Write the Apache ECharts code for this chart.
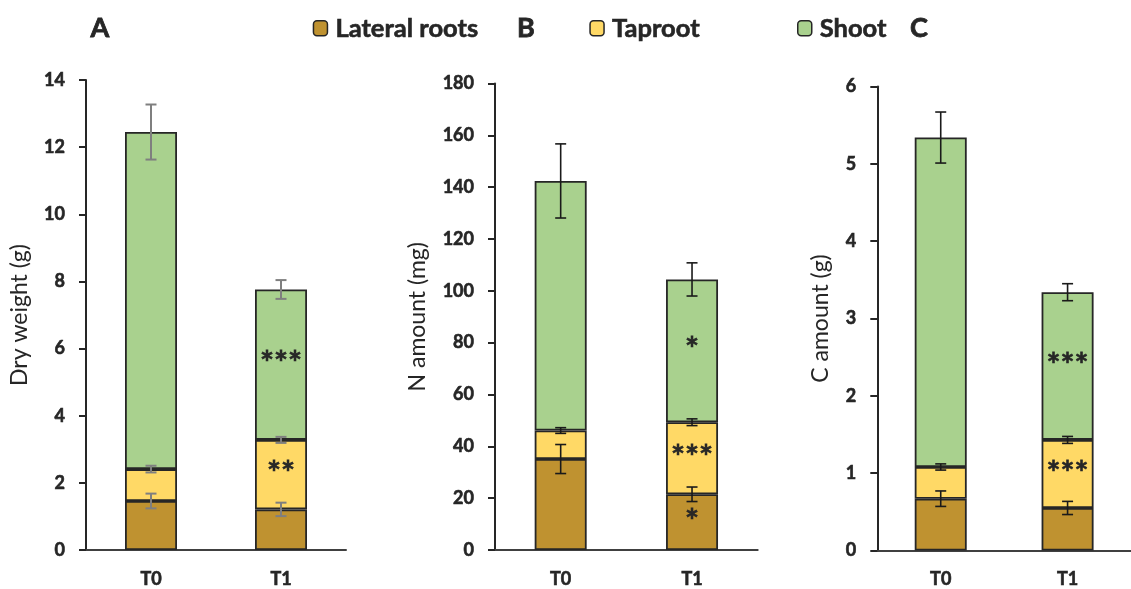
<!DOCTYPE html>
<html>
<head>
<meta charset="utf-8">
<script src="https://cdn.jsdelivr.net/npm/echarts@6/dist/echarts.min.js"></script>
<style>
html,body{margin:0;padding:0;background:#fff;}
#chart{width:1131px;height:589px;}
</style>
</head>
<body>
<div id="chart"></div>
<script>
// ---- data ----
const categories = ['T0', 'T1'];
const seriesNames = ['Lateral roots', 'Taproot', 'Shoot'];
const panelLetters = ['A', 'B', 'C'];
const yAxisNames = ['Dry weight (g)', 'N amount (mg)', 'C amount (g)'];
const yMax = [14, 180, 6];
const yInterval = [2, 20, 1];

// Panel A: dry weight (g)
const lateralA = [1.46, 1.21];
const taprootA = [0.95, 2.07];
const shootA = [10.04, 4.48];
const errLateralA = [0.22, 0.20];
const errTaprootA = [0.10, 0.09];
const errShootA = [0.82, 0.28];
const sigLateralA = ['', ''];
const sigTaprootA = ['', '**'];
const sigShootA = ['', '***'];

// Panel B: N amount (mg)
const lateralB = [35.1, 21.5];
const taprootB = [11.0, 27.8];
const shootB = [96.3, 55.1];
const errLateralB = [5.6, 2.8];
const errTaprootB = [1.1, 1.3];
const errShootB = [14.3, 6.4];
const sigLateralB = ['', '*'];
const sigTaprootB = ['', '***'];
const sigShootB = ['', '*'];

// Panel C: C amount (g)
const lateralC = [0.67, 0.55];
const taprootC = [0.41, 0.88];
const shootC = [4.26, 1.91];
const errLateralC = [0.10, 0.085];
const errTaprootC = [0.04, 0.045];
const errShootC = [0.33, 0.11];
const sigLateralC = ['', ''];
const sigTaprootC = ['', '***'];
const sigShootC = ['', '***'];

// ---- styling ----
const FONT = 'Lato';
const TEXT = '#262626';
const BOLD = 'bold';
const HEAVY = { textBorderColor: TEXT, textBorderWidth: 0.6 };
const colors = ['#BF9230', '#FFD966', '#A9D18E'];
const errColors = ['#7F7F7F', '#1A1A1A', '#1A1A1A'];
const errWidths = [2, 1.6, 1.6];

const panels = [
  { values: [lateralA, taprootA, shootA], errs: [errLateralA, errTaprootA, errShootA], sigs: [sigLateralA, sigTaprootA, sigShootA] },
  { values: [lateralB, taprootB, shootB], errs: [errLateralB, errTaprootB, errShootB], sigs: [sigLateralB, sigTaprootB, sigShootB] },
  { values: [lateralC, taprootC, shootC], errs: [errLateralC, errTaprootC, errShootC], sigs: [sigLateralC, sigTaprootC, sigShootC] }
];

const grids = [
  { left: 86, width: 260, top: 80, height: 470 },
  { left: 495, width: 262.7, top: 83.5, height: 466.5 },
  { left: 877.3, width: 265, top: 86.5, height: 464 }
];
const nameGaps = [55, 66, 45];

const xAxes = [], yAxes = [], series = [];
panels.forEach((p, i) => {
  xAxes.push({
    type: 'category', gridIndex: i, data: categories,
    axisLine: { lineStyle: { color: '#404040', width: 2 } },
    axisTick: { show: false },
    axisLabel: Object.assign({ color: TEXT, fontFamily: FONT, fontWeight: BOLD, fontSize: 18, margin: 20 }, HEAVY)
  });
  yAxes.push({
    type: 'value', gridIndex: i, min: 0, max: yMax[i], interval: yInterval[i],
    name: yAxisNames[i], nameLocation: 'middle', nameGap: nameGaps[i],
    nameTextStyle: { color: TEXT, fontFamily: FONT, fontSize: 23 },
    axisLine: { show: true, lineStyle: { color: TEXT, width: 2 } },
    axisTick: { show: true, length: 7, lineStyle: { color: TEXT, width: 2 } },
    axisLabel: Object.assign({ color: TEXT, fontFamily: FONT, fontWeight: BOLD, fontSize: 18, margin: 21 }, HEAVY),
    splitLine: { show: false }
  });
  const cum = [0, 0];
  const errData = [];
  p.values.forEach((vals, s) => {
    series.push({
      name: seriesNames[s], type: 'bar', stack: 'stack' + i,
      xAxisIndex: i, yAxisIndex: i, barWidth: 52,
      data: vals,
      itemStyle: { color: colors[s], borderColor: '#262626', borderWidth: 1.8 },
      label: Object.assign({
        show: true, position: 'inside',
        formatter: (params) => p.sigs[s][params.dataIndex],
        color: TEXT, fontFamily: FONT, fontWeight: BOLD, fontSize: 33
      }, HEAVY),
      emphasis: { disabled: true }
    });
    vals.forEach((v, c) => {
      cum[c] += v;
      errData.push([c, cum[c] - p.errs[s][c], cum[c] + p.errs[s][c]]);
    });
  });
  series.push({
    type: 'custom', xAxisIndex: i, yAxisIndex: i, z: 10,
    data: errData,
    renderItem: (params, api) => {
      const lo = api.coord([api.value(0), api.value(1)]);
      const hi = api.coord([api.value(0), api.value(2)]);
      const hw = 5.5;
      const style = { stroke: errColors[i], lineWidth: errWidths[i], fill: null };
      return {
        type: 'group',
        children: [
          { type: 'line', shape: { x1: lo[0], y1: lo[1], x2: hi[0], y2: hi[1] }, style },
          { type: 'line', shape: { x1: lo[0] - hw, y1: lo[1], x2: lo[0] + hw, y2: lo[1] }, style },
          { type: 'line', shape: { x1: hi[0] - hw, y1: hi[1], x2: hi[0] + hw, y2: hi[1] }, style }
        ]
      };
    }
  });
});

const legendLefts = [312.7, 589.3, 797];
const legends = seriesNames.map((n, k) => ({
  data: [n], left: legendLefts[k], top: 15, padding: 0,
  itemWidth: 14, itemHeight: 15, selectedMode: false,
  itemStyle: { borderColor: '#262626', borderWidth: 1.5 },
  textStyle: Object.assign({ color: TEXT, fontFamily: FONT, fontWeight: BOLD, fontSize: 25.5, padding: [0, 0, 0, 3] }, HEAVY)
}));

const letterX = [100, 526, 919];
const graphic = panelLetters.map((t, k) => ({
  type: 'text', x: letterX[k], y: 28,
  style: Object.assign({ text: t, fontFamily: FONT, fontWeight: BOLD, fontSize: 27, fill: TEXT, align: 'center', verticalAlign: 'middle', stroke: TEXT, lineWidth: 0.8 })
}));

const chart = echarts.init(document.getElementById('chart'), null, { renderer: 'canvas' });
chart.setOption({
  animation: false,
  backgroundColor: '#fff',
  grid: grids,
  xAxis: xAxes,
  yAxis: yAxes,
  legend: legends,
  graphic: graphic,
  series: series
});
</script>
</body>
</html>
